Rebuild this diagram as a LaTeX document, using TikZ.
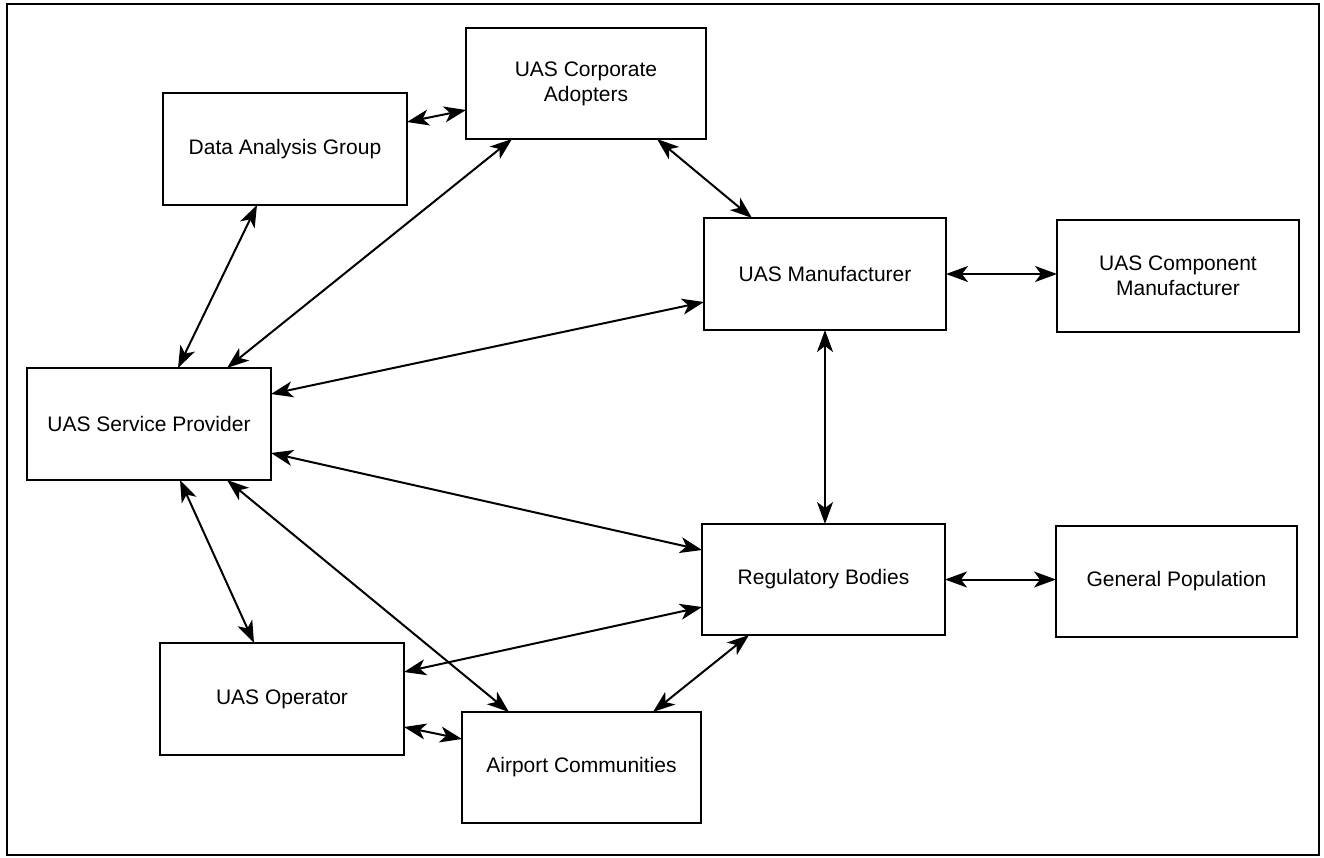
\documentclass[tikz,border=0pt]{standalone}
\usepackage{fontspec}
\setmainfont{Liberation Sans}
\usetikzlibrary{arrows.meta}
\begin{document}
\begin{tikzpicture}[x=1pt,y=-1pt,
  >={Stealth[length=22pt,width=16pt,inset=6pt]},
  box/.style={draw=black, line width=2pt, fill=white, inner sep=0pt, outer sep=0pt,
    align=center, font=\fontsize{21}{25}\selectfont},
  link/.style={line width=2pt, <->}]
  \useasboundingbox (0,0) rectangle (1324,857);
  % outer frame
  \draw[line width=2.4pt] (7,4) rectangle (1319,855);

  % stakeholder boxes
  \node[box, minimum width=244pt, minimum height=112pt] (dag) at (285,149) {Data Analysis Group};
  \node[box, minimum width=240pt, minimum height=111pt] (uca) at (586,83.5) {UAS Corporate\\Adopters};
  \node[box, minimum width=242pt, minimum height=112pt] (um)  at (825,274) {UAS Manufacturer};
  \node[box, minimum width=242pt, minimum height=112pt] (ucm) at (1178,276) {UAS Component\\Manufacturer};
  \node[box, minimum width=244pt, minimum height=112pt] (usp) at (149,424) {UAS Service Provider};
  \node[box, minimum width=243pt, minimum height=111pt] (rb)  at (823.5,579.5) {Regulatory Bodies};
  \node[box, minimum width=241pt, minimum height=111pt] (gp)  at (1176.5,581.5) {General Population};
  \node[box, minimum width=244pt, minimum height=112pt] (uo)  at (282,699) {UAS Operator};
  \node[box, minimum width=239pt, minimum height=111pt] (ac)  at (581.5,767.5) {Airport Communities};

  % two-way relationships
  \draw[link] ([yshift=-29pt]dag.north east) -- ([yshift=-82pt]uca.north west);
  \draw[link] ([xshift=94pt]dag.south west) -- ([xshift=151pt]usp.north west);
  \draw[link] ([xshift=46pt]uca.south west) -- ([xshift=200pt]usp.north west);
  \draw[link] ([xshift=191pt]uca.south west) -- ([xshift=48pt]um.north west);
  \draw[link] ([yshift=-26pt]usp.north east) -- ([yshift=-84pt]um.north west);
  \draw[link] (um.east) -- (ucm.west |- um.east);
  \draw[link] (um.south) -- (rb.north -| um.south);
  \draw[link] ([yshift=-85pt]usp.north east) -- ([yshift=-26pt]rb.north west);
  \draw[link] (rb.east) -- (gp.west |- rb.east);
  \draw[link] ([xshift=153pt]usp.south west) -- ([xshift=94pt]uo.north west);
  \draw[link] ([xshift=200pt]usp.south west) -- ([xshift=47pt]ac.north west);
  \draw[link] ([yshift=-83pt]rb.north west) -- ([yshift=-29pt]uo.north east);
  \draw[link] ([yshift=-84pt]uo.north east) -- ([yshift=-27pt]ac.north west);
  \draw[link] ([xshift=47pt]rb.south west) -- ([xshift=191pt]ac.north west);
\end{tikzpicture}
\end{document}
